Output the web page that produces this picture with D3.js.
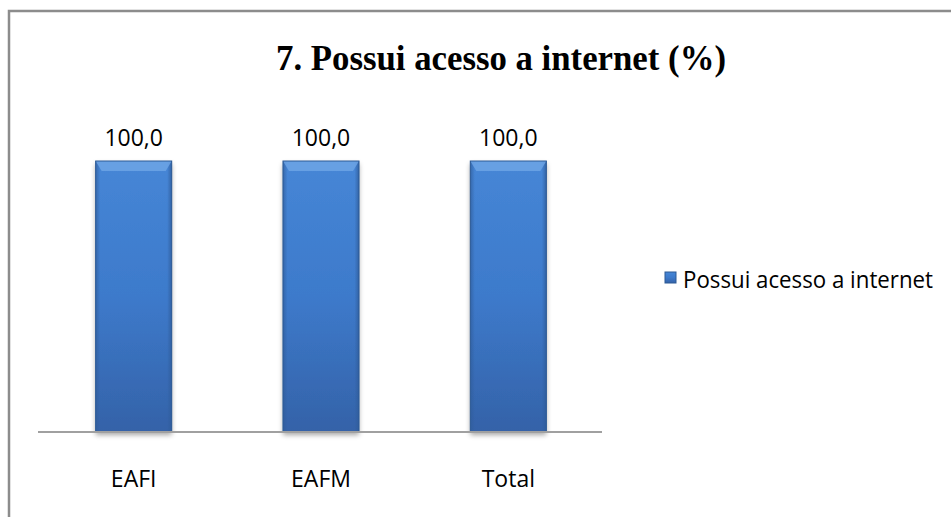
<!DOCTYPE html>
<html>
<head>
<meta charset="utf-8">
<script src="https://cdn.jsdelivr.net/npm/d3@7"></script>
<style>
  body { margin: 0; background: #fff; }
  svg { display: block; }
</style>
</head>
<body>
<div id="chart"></div>
<script>
// data
var categories = ['EAFI', 'EAFM', 'Total'];
var values = [100.0, 100.0, 100.0];
var seriesName = 'Possui acesso a internet';
var chartTitle = '7. Possui acesso a internet (%)';

var width = 951, height = 517;

var svg = d3.select('#chart').append('svg')
  .attr('width', width).attr('height', height);

// gradients for the bevelled bars
var defs = svg.append('defs');
var g = defs.append('linearGradient').attr('id', 'barFill')
  .attr('x1', 0).attr('y1', 0).attr('x2', 0).attr('y2', 1);
g.append('stop').attr('offset', '0%').attr('stop-color', '#4686d6');
g.append('stop').attr('offset', '50%').attr('stop-color', '#3d7acb');
g.append('stop').attr('offset', '100%').attr('stop-color', '#3462a8');

var side = defs.append('linearGradient').attr('id', 'sideFill')
  .attr('x1', 0).attr('y1', 0).attr('x2', 1).attr('y2', 0);
side.append('stop').attr('offset', '0%').attr('stop-color', '#2f5c9a').attr('stop-opacity', 0.7);
side.append('stop').attr('offset', '6%').attr('stop-color', '#2f5c9a').attr('stop-opacity', 0);
side.append('stop').attr('offset', '94%').attr('stop-color', '#2f5c9a').attr('stop-opacity', 0);
side.append('stop').attr('offset', '100%').attr('stop-color', '#2f5c9a').attr('stop-opacity', 0.8);

var shadow = defs.append('filter').attr('id', 'shadow')
  .attr('x', '-20%').attr('y', '-10%').attr('width', '140%').attr('height', '130%');
shadow.append('feDropShadow').attr('dx', 0).attr('dy', 3).attr('stdDeviation', 2.5)
  .attr('flood-color', '#000').attr('flood-opacity', 0.35);

// outer frame
svg.append('path')
  .attr('d', 'M9,' + height + 'V11H' + width)
  .attr('fill', 'none').attr('stroke', '#8c8c8c').attr('stroke-width', 2.5);

// title
svg.append('text')
  .attr('x', 501).attr('y', 70)
  .attr('text-anchor', 'middle')
  .attr('font-family', 'Liberation Serif, serif')
  .attr('font-weight', 'bold')
  .attr('font-size', 36)
  .attr('textLength', 450).attr('lengthAdjust', 'spacingAndGlyphs')
  .text(chartTitle);

// scales
var x = d3.scaleBand().domain(categories).range([40, 602]).paddingInner(0.594).paddingOuter(0.297);
var y = d3.scaleLinear().domain([0, 100]).range([432, 161]);

// bars
var bars = svg.selectAll('.bar').data(values).enter().append('g').attr('class', 'bar');
bars.append('rect')
  .attr('x', function(d, i) { return x(categories[i]); })
  .attr('y', function(d) { return y(d); })
  .attr('width', x.bandwidth())
  .attr('height', function(d) { return y(0) - y(d); })
  .attr('fill', 'url(#barFill)')
  .attr('filter', 'url(#shadow)');
bars.append('rect')
  .attr('x', function(d, i) { return x(categories[i]); })
  .attr('y', function(d) { return y(d); })
  .attr('width', x.bandwidth())
  .attr('height', function(d) { return y(0) - y(d); })
  .attr('fill', 'url(#sideFill)');
// top bevel highlight
bars.append('path')
  .attr('d', function(d, i) {
    var x0 = x(categories[i]), x1 = x0 + x.bandwidth(), t = y(d);
    return 'M' + x0 + ',' + t + 'H' + x1 + 'L' + (x1 - 6) + ',' + (t + 10) + 'H' + (x0 + 6) + 'Z';
  })
  .attr('fill', '#6fa6e6').attr('opacity', 0.8);
bars.append('rect')
  .attr('x', function(d, i) { return x(categories[i]); })
  .attr('y', function(d) { return y(d); })
  .attr('width', x.bandwidth())
  .attr('height', function(d) { return y(0) - y(d); })
  .attr('fill', 'none').attr('stroke', '#2d5a95').attr('stroke-width', 1);

// value labels
svg.selectAll('.val').data(values).enter().append('text')
  .attr('class', 'val')
  .attr('x', function(d, i) { return x(categories[i]) + x.bandwidth() / 2; })
  .attr('y', function(d) { return y(d) - 15; })
  .attr('text-anchor', 'middle')
  .attr('font-family', 'Open Sans, sans-serif')
  .attr('font-size', 23)
  .attr('fill', '#000')
  .text(function(d) { return d3.format('.1f')(d).replace('.', ','); });

// x axis
var xAxis = svg.append('g').attr('transform', 'translate(0,' + y(0) + ')')
  .call(d3.axisBottom(x).tickSize(0));
xAxis.select('.domain').attr('stroke', '#a0a0a0').attr('stroke-width', 2)
  .attr('d', 'M38,0H602');
xAxis.selectAll('text')
  .attr('y', 55).attr('dy', 0)
  .attr('font-family', 'Open Sans, sans-serif')
  .attr('font-size', 23)
  .attr('fill', '#000');

// legend
var legend = svg.append('g').attr('transform', 'translate(665,272)');
legend.append('rect').attr('width', 11).attr('height', 11)
  .attr('fill', 'url(#barFill)').attr('stroke', '#2d5a95').attr('stroke-width', 1);
legend.append('text').attr('x', 18).attr('y', 16)
  .attr('font-family', 'Open Sans, sans-serif')
  .attr('font-size', 23)
  .attr('fill', '#000')
  .attr('textLength', 250).attr('lengthAdjust', 'spacingAndGlyphs')
  .text(seriesName);
</script>
</body>
</html>
